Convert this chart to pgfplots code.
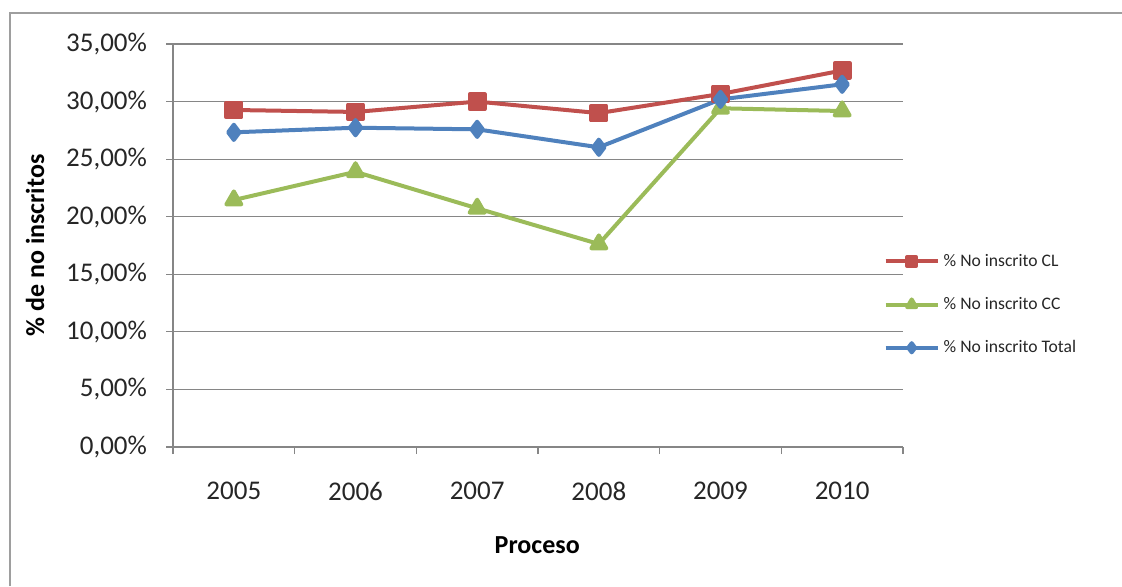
\documentclass[border=0pt]{standalone}
\usepackage{fontspec}
\setmainfont{Carlito}
\usepackage{pgfplots}
\pgfplotsset{compat=1.18}
\definecolor{cl}{HTML}{C0504D}
\definecolor{cc}{HTML}{9BBB59}
\definecolor{tot}{HTML}{4F81BD}
\definecolor{gridc}{HTML}{868686}

\begin{document}
\begin{tikzpicture}
\useasboundingbox (0,0) rectangle (561pt,-293pt);
\draw[gridc!80, line width=0.7pt] (5pt,-293pt) -- (5pt,-6.5pt) -- (561pt,-6.5pt);
\begin{axis}[
    at={(86.5pt,-223.5pt)}, anchor=south west,
    scale only axis, width=365pt, height=201.5pt,
    xmin=-0.5, xmax=5.5, ymin=0, ymax=35,
    axis x line*=bottom, axis y line*=left,
    axis line style={gridc, line width=0.6pt, -},
    tick style={gridc, line width=0.6pt},
    tick align=outside, major tick length=3.5pt,
    xtick={-0.5,0.5,1.5,2.5,3.5,4.5,5.5},
    xticklabels={{},{},{},{},{},{},{}},
    extra x ticks={0,1,2,3,4,5},
    extra x tick labels={2005,2006,2007,2008,2009,2010},
    extra x tick style={major tick length=0pt, xticklabel style={yshift=-14pt}},
    ytick={0,5,10,15,20,25,30,35},
    yticklabels={{0,00\%},{5,00\%},{10,00\%},{15,00\%},{20,00\%},{25,00\%},{30,00\%},{35,00\%}},
    ymajorgrids, grid style={gridc, line width=0.6pt},
    ticklabel style={font=\fontsize{13.5}{16}\selectfont, text=black!85},
    yticklabel style={xshift=-6pt},
    xlabel={\textbf{Proceso}},
    ylabel={\textbf{\% de no inscritos}},
    label style={font=\fontsize{13}{15}\selectfont},
    xlabel style={at={(axis description cs:0.499,-0.243)}, anchor=center},
    ylabel style={at={(axis description cs:-0.189,0.5)}, anchor=center},
    line join=round,
    legend style={at={(axis description cs:0.973,0.49)}, anchor=north west,
        draw=none, fill=none, font=\fontsize{8.8}{10.5}\selectfont,
        text=black!85, row sep=10pt, inner sep=0pt,
        /tikz/every even column/.append style={column sep=1pt}},
    legend cell align=left,
    legend image code/.code={
        \draw[mark repeat=2, mark phase=2, every mark/.append style={scale=0.6}]
        plot coordinates {(0pt,0pt) (13pt,0pt) (26pt,0pt)};},
]
\addplot[cl, line width=2pt, mark=square*, mark size=3.7pt, mark options={fill=cl, draw=cl}]
coordinates {(0,29.27) (1,29.10) (2,30.00) (3,29.00) (4,30.66) (5,32.70)};
\addplot[cc, line width=2pt, mark=triangle*, mark size=4.3pt, mark options={fill=cc, draw=cc}]
coordinates {(0,21.45) (1,23.90) (2,20.73) (3,17.63) (4,29.42) (5,29.18)};
\addplot[tot, line width=2pt, mark=diamond*, mark size=3.8pt, mark options={fill=tot, draw=tot}]
coordinates {(0,27.33) (1,27.73) (2,27.59) (3,26.03) (4,30.19) (5,31.50)};
\legend{\% No inscrito CL, \% No inscrito CC, \% No inscrito Total}
\end{axis}
\end{tikzpicture}
\end{document}
